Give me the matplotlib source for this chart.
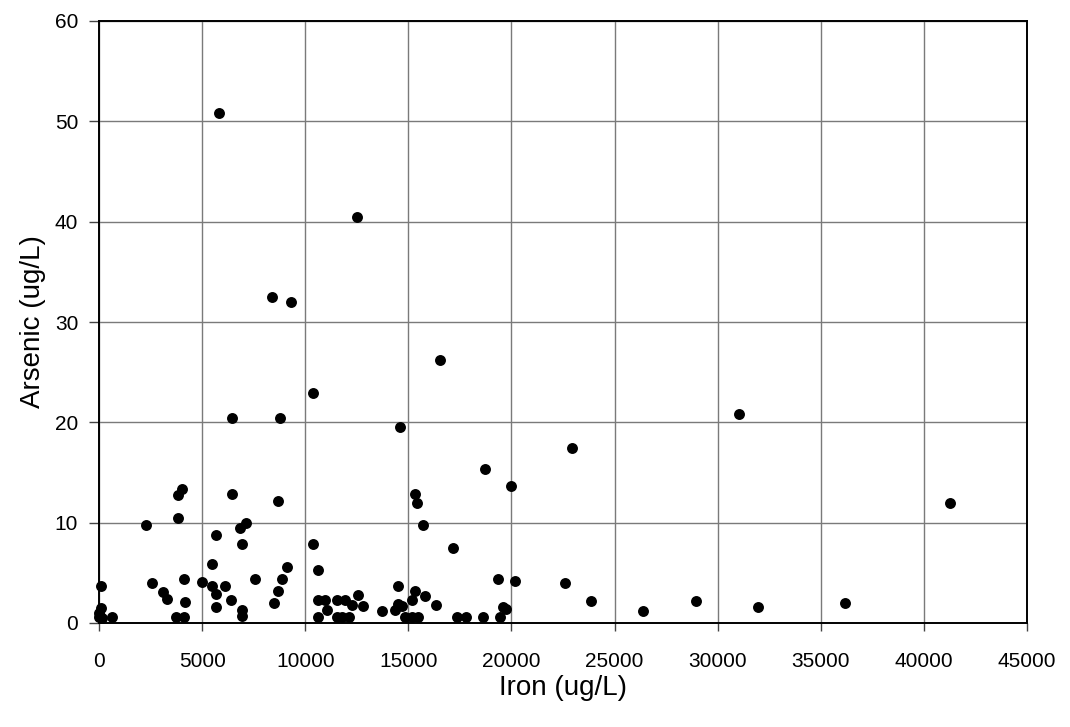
import matplotlib
matplotlib.use("Agg")
import matplotlib.pyplot as plt

plt.rcParams['font.family'] = ['Liberation Sans', 'DejaVu Sans']

# Iron vs. arsenic concentrations in groundwater samples (ug/L)
iron = [
    80, 80, 0, 0, 50, 150, 630,
    2550, 3100, 3280, 4110, 4190, 3740, 4110,
    5000, 5480, 5480, 5650, 6130, 5650, 6390, 6930, 6930, 7580,
    8500, 8660, 8870, 9130,
    10600, 10600, 10970, 11050, 10600, 11560, 11940, 11530, 11800, 12130,
    12250, 12580, 12820, 13710, 14350, 14510, 14510, 14670, 14840, 15160,
    15480, 15160, 15320, 15810, 16340, 17380, 17820, 18630, 19350, 20160,
    19430, 19590, 19750, 22580, 23840, 26400, 28950, 31960, 36170,
    41280, 31050, 22930, 18710, 20000, 15320, 15430, 15710, 17160, 14600,
    16530, 12520, 8380, 9320, 5840, 10400, 6450, 8760,
    4030, 3820, 3820, 2290, 6450, 8660, 7130, 6860, 5650, 6930, 10400,
]
arsenic = [
    3.66, 1.53, 1.03, 0.6, 0.6, 0.5, 0.63,
    4.03, 3.13, 2.43, 4.43, 2.13, 0.63, 0.63,
    4.06, 5.93, 3.73, 2.93, 3.66, 1.63, 2.33, 1.26, 0.66, 4.43,
    2.03, 3.23, 4.43, 5.63,
    5.33, 2.26, 2.26, 1.33, 0.63, 2.26, 2.26, 0.63, 0.63, 0.63,
    1.83, 2.83, 1.73, 1.16, 1.26, 3.66, 1.93, 1.66, 0.63, 0.63,
    0.63, 2.33, 3.16, 2.73, 1.83, 0.63, 0.63, 0.63, 4.40, 4.16,
    0.63, 1.60, 1.43, 4.0, 2.16, 1.16, 2.16, 1.56, 1.96,
    11.93, 20.83, 17.43, 15.33, 13.66, 12.9, 11.93, 9.73, 7.43, 19.5,
    26.26, 40.43, 32.5, 32.0, 50.8, 22.9, 20.4, 20.4,
    13.33, 12.73, 10.46, 9.73, 12.9, 12.13, 9.93, 9.5, 8.76, 7.83, 7.83,
]

x_ticks = list(range(0, 45001, 5000))
y_ticks = list(range(0, 61, 10))

fig = plt.figure(figsize=(10.7, 7.27), dpi=100)
ax = fig.add_axes([99 / 1070, 1 - 623 / 727, 928 / 1070, 602 / 727])

ax.scatter(iron, arsenic, s=62, color='black', zorder=3, clip_on=False,
           linewidths=0)

ax.set_xlim(0, 45000)
ax.set_ylim(0, 60)
ax.set_xticks(x_ticks)
ax.set_yticks(y_ticks)
ax.set_xticklabels([str(v) for v in x_ticks], fontsize=15)
ax.set_yticklabels([str(v) for v in y_ticks], fontsize=15)

ax.grid(True, color='#7a7a7a', linewidth=1.0, zorder=1)
ax.set_axisbelow(True)

for side in ('top', 'right', 'left', 'bottom'):
    ax.spines[side].set_color('black')
    ax.spines[side].set_linewidth(1.4)

ax.tick_params(axis='x', direction='out', length=6, width=1.0,
               color='#444444', pad=15)
ax.tick_params(axis='y', direction='out', length=7, width=1.0,
               color='#444444', pad=8)

ax.set_xlabel('Iron (ug/L)', fontsize=20, labelpad=3)
ax.set_ylabel('Arsenic (ug/L)', fontsize=20, labelpad=6)

fig.savefig('out.png', dpi=100, facecolor='white')
